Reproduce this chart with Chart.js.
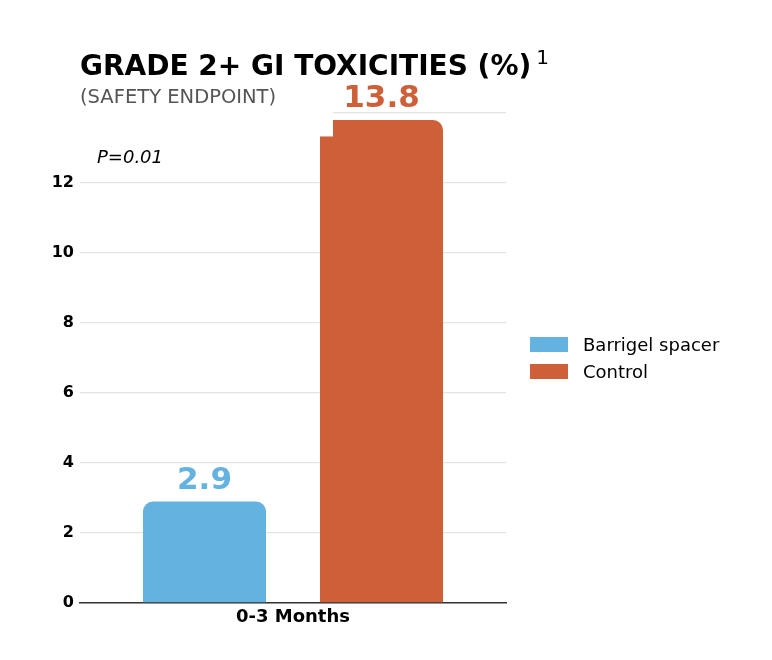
<!DOCTYPE html>
<html>
<head>
<meta charset="utf-8">
<script src="https://cdn.jsdelivr.net/npm/chart.js@4"></script>
<style>
  body { margin: 0; background: #fff; font-family: "DejaVu Sans", sans-serif; }
  #wrap { position: relative; width: 772px; height: 660px; }
  #chart { position: absolute; left: 0; top: 0; }
  .title { position: absolute; left: 80px; top: 52px; font-size: 28px; font-weight: bold; line-height: 1; color: #000; white-space: nowrap; }
  .title sup { font-size: 20px; font-weight: normal; position: relative; top: -5px; margin-left: 5px; vertical-align: top; }
  .subtitle { position: absolute; left: 80px; top: 87px; font-size: 19.5px; line-height: 1; color: #555; white-space: nowrap; }
  #legend { position: absolute; left: 530px; top: 337px; font-size: 18px; color: #000; }
  #legend .item { display: flex; align-items: center; height: 15px; margin-bottom: 12px; white-space: nowrap; }
  #legend .box { width: 38px; height: 15px; margin-right: 15px; flex: none; }
</style>
</head>
<body>
<div id="wrap">
  <canvas id="chart" width="772" height="660"></canvas>
  <div class="title">GRADE 2+ GI TOXICITIES (%)<sup>1</sup></div>
  <div class="subtitle">(SAFETY ENDPOINT)</div>
  <div id="legend"></div>
</div>
<script>
const categories = ['0-3 Months'];
const seriesNames = ['Barrigel spacer', 'Control'];
const spacerValues = [2.9];
const controlValues = [13.8];
const yTickValues = [0, 2, 4, 6, 8, 10, 12, 14];
const pValueText = 'P=0.01';

const blue = '#63b2df';
const orange = '#cd6039';

Chart.defaults.font.family = '"DejaVu Sans", sans-serif';
Chart.defaults.color = '#000';

// white patch over the top-left corner of the control bar, as in the source image
const patch = {
  id: 'patch',
  afterDatasetsDraw(chart) {
    const ctx = chart.ctx;
    const ys = chart.scales.y;
    const bar = chart.getDatasetMeta(1).data[0];
    const left = chart.chartArea.left;
    const right = bar.x - bar.width / 2 + 13;
    const top = ys.getPixelForValue(14.3);
    const bottom = ys.getPixelForValue(13.33);
    ctx.save();
    ctx.fillStyle = '#fff';
    ctx.fillRect(left, top, right - left, bottom - top);
    ctx.restore();
  }
};

const valueLabels = {
  id: 'valueLabels',
  afterDatasetsDraw(chart) {
    const ctx = chart.ctx;
    ctx.save();
    ctx.font = 'bold 31px "DejaVu Sans"';
    ctx.textAlign = 'center';
    ctx.textBaseline = 'alphabetic';
    chart.data.datasets.forEach((ds, i) => {
      chart.getDatasetMeta(i).data.forEach((el, j) => {
        ctx.fillStyle = ds.backgroundColor;
        ctx.fillText(ds.data[j].toFixed(1), el.x, el.y - 13);
      });
    });
    // p value note
    ctx.font = 'italic 18px "DejaVu Sans"';
    ctx.fillStyle = '#000';
    ctx.textAlign = 'left';
    ctx.textBaseline = 'middle';
    ctx.fillText(pValueText, chart.chartArea.left + 17, chart.scales.y.getPixelForValue(12.7));
    ctx.restore();
  }
};

const chart = new Chart(document.getElementById('chart'), {
  type: 'bar',
  data: {
    labels: categories,
    datasets: [
      { label: seriesNames[0], data: spacerValues, backgroundColor: blue },
      { label: seriesNames[1], data: controlValues, backgroundColor: orange }
    ]
  },
  options: {
    responsive: false,
    animation: false,
    barPercentage: 0.695,
    categoryPercentage: 0.831,
    borderRadius: 10,
    layout: { padding: { top: 113, right: 266, bottom: 0, left: 0 } },
    plugins: {
      title: { display: false },
      tooltip: { enabled: false },
      legend: { display: false }
    },
    scales: {
      x: {
        grid: { display: false, drawTicks: false },
        border: { color: '#333', width: 1.5 },
        ticks: { color: '#000', font: { size: 18, weight: 'bold' }, padding: 4 },
        afterFit(s) { s.height = 57; }
      },
      y: {
        min: 0,
        max: 14,
        afterBuildTicks(s) { s.ticks = yTickValues.map(v => ({ value: v })); },
        ticks: {
          color: '#000',
          padding: 6,
          font: { size: 16, weight: 'bold' },
          callback: v => (v === 14 ? '' : v)
        },
        grid: { color: '#e4e4e4', lineWidth: 1.3, drawTicks: false },
        border: { display: false },
        afterFit(s) { s.width = 80; }
      }
    }
  },
  plugins: [patch, valueLabels]
});

// legend built from the chart's datasets
const legendEl = document.getElementById('legend');
chart.data.datasets.forEach(ds => {
  const item = document.createElement('div');
  item.className = 'item';
  const box = document.createElement('span');
  box.className = 'box';
  box.style.background = ds.backgroundColor;
  const txt = document.createElement('span');
  txt.textContent = ds.label;
  item.appendChild(box);
  item.appendChild(txt);
  legendEl.appendChild(item);
});
</script>
</body>
</html>
